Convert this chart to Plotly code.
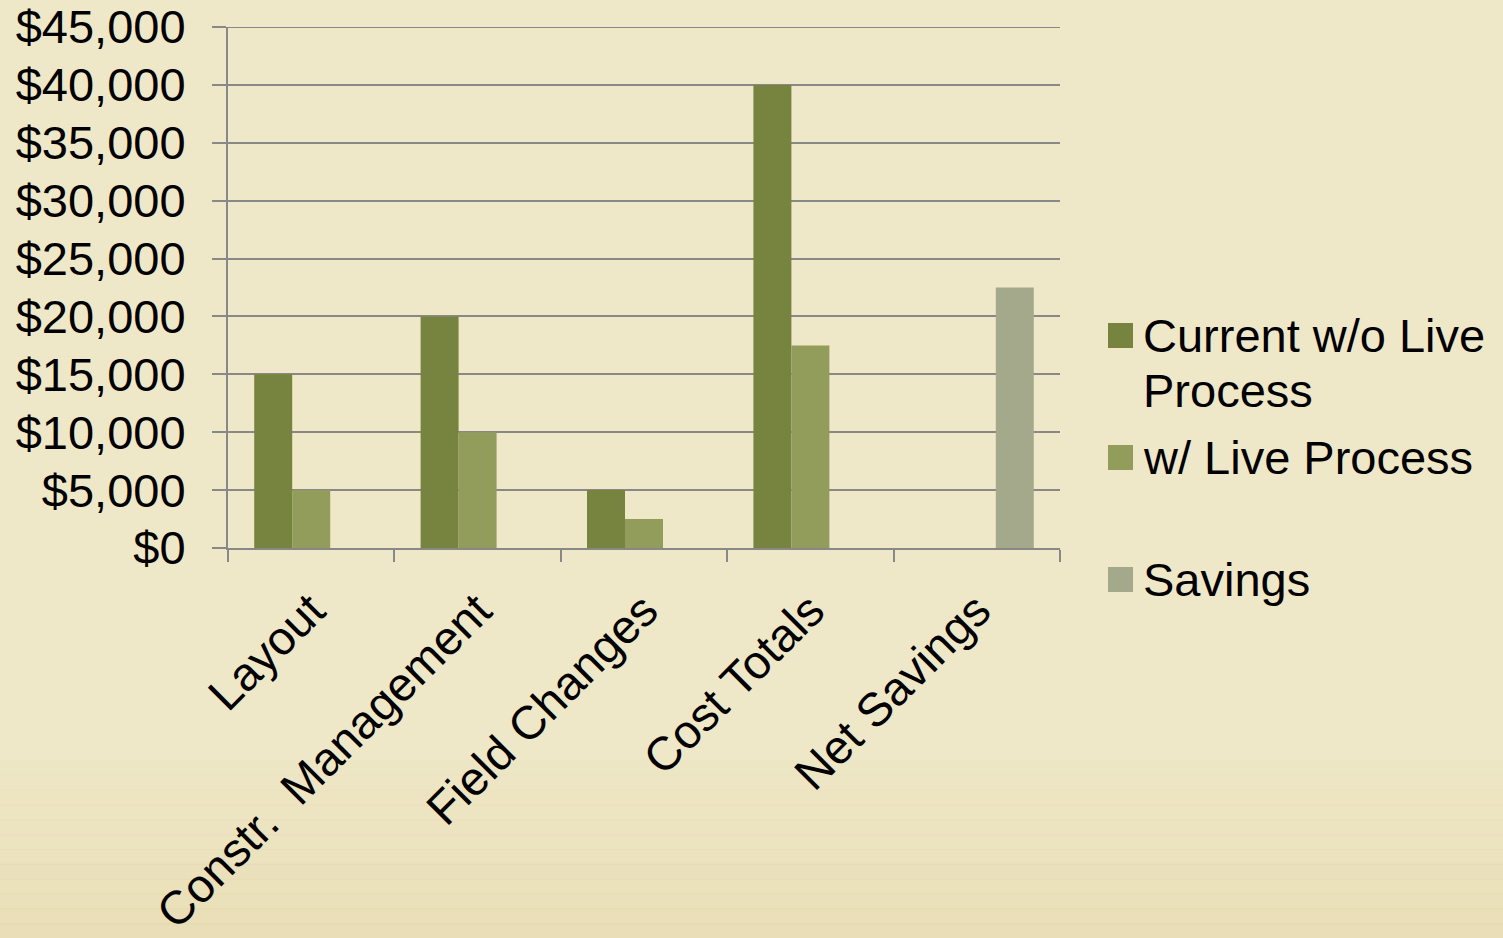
import plotly.graph_objects as go

categories = ["Layout", "Constr.\u00a0 Management", "Field Changes", "Cost Totals", "Net Savings"]
series_names = ["Current w/o Live<br>Process", "w/ Live Process", "Savings"]
current_vals = [15000, 20000, 5000, 40000, None]
live_vals = [5000, 10000, 2500, 17500, None]
savings_vals = [None, None, None, None, 22500]
series_colors = ["#77843f", "#939d5b", "#a4a98b"]
y_ticks = [0, 5000, 10000, 15000, 20000, 25000, 30000, 35000, 40000, 45000]

FONT = "Liberation Sans, Arial, sans-serif"
FS = 47
W, H = 1503, 938
L, R, T, B = 228, 1060, 27, 548
PW, PH = R - L, B - T


def px_x(p):
    return (p - L) / PW


def px_y(p):
    return (B - p) / PH


fig = go.Figure()
for name, vals, col in zip(series_names, [current_vals, live_vals, savings_vals], series_colors):
    fig.add_trace(go.Bar(x=categories, y=vals, name=name.replace("<br>", " "),
                         marker=dict(color=col, line=dict(width=0)), showlegend=False))

shapes = []
# soft darkening toward the bottom of the page
n_bands = 12
start = 760
for i in range(n_bands):
    p0 = start + (H - start) * i / n_bands
    p1 = start + (H - start) * (i + 1) / n_bands + 1
    a = 0.03 + 0.30 * (i + 1) / n_bands
    shapes.append(dict(type="rect", xref="paper", yref="paper",
                       x0=px_x(0), x1=px_x(W), y0=px_y(p1), y1=px_y(p0),
                       fillcolor=f"rgba(222,204,150,{a:.3f})", line=dict(width=0), layer="below"))

# top gridline (at the range edge)
shapes.append(dict(type="line", xref="paper", yref="y", x0=0, x1=1, y0=y_ticks[-1], y1=y_ticks[-1],
                   line=dict(color="#888888", width=2), layer="below"))

annotations = []
# custom legend
leg_marker_y = [323, 445, 567]
LINE_H = 55
for name, col, my in zip(series_names, series_colors, leg_marker_y):
    shapes.append(dict(type="rect", xref="paper", yref="paper",
                       x0=px_x(1108), x1=px_x(1133), y0=px_y(my + 25), y1=px_y(my),
                       fillcolor=col, line=dict(width=0)))
    for k, line in enumerate(name.split("<br>")):
        annotations.append(dict(xref="paper", yref="paper", x=px_x(1141), y=px_y(my + 12.5 + k * LINE_H),
                                xanchor="left", yanchor="middle", align="left", showarrow=False,
                                text=line, font=dict(family=FONT, size=FS, color="#000000")))

fig.update_layout(
    width=W, height=H,
    margin=dict(l=L, r=W - R, t=T, b=H - B, autoexpand=False),
    paper_bgcolor="#efe8c8", plot_bgcolor="rgba(0,0,0,0)",
    barmode="group", bargap=0.315, bargroupgap=0,
    showlegend=False,
    shapes=shapes, annotations=annotations,
    font=dict(family=FONT, size=FS, color="#000000"),
)
fig.update_xaxes(type="category", tickangle=-45, tickson="boundaries", ticks="outside", ticklen=12,
                 tickwidth=2, tickcolor="#888888", showline=True, linecolor="#888888", linewidth=2,
                 showgrid=False, automargin=False, ticklabelstandoff=14,
                 tickfont=dict(family=FONT, size=FS, color="#000000"))
fig.update_yaxes(range=[0, 45000], tickvals=y_ticks, tickformat="$,.0f", ticks="outside", ticklen=14,
                 tickwidth=2, tickcolor="#888888", showline=True, linecolor="#888888", linewidth=2,
                 showgrid=True, gridcolor="#888888", gridwidth=2, zeroline=False, automargin=False,
                 ticklabelstandoff=17, tickfont=dict(family=FONT, size=FS, color="#000000"))

fig.write_html("out.html")
